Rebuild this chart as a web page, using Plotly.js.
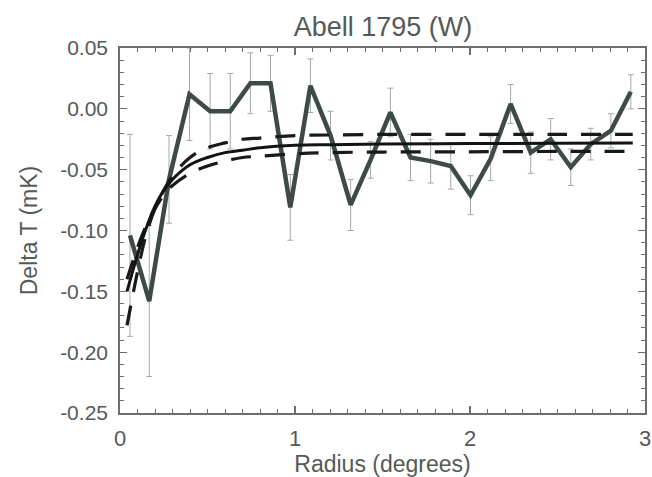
<!DOCTYPE html>
<html>
<head>
<meta charset="utf-8">
<script src="https://cdn.plot.ly/plotly-3.0.1.min.js"></script>
<style>
  html, body { margin: 0; padding: 0; background: #ffffff; }
  #chart { width: 652px; height: 477px; }
</style>
</head>
<body>
<div id="chart"></div>
<script>
// ---- data ----
const radius = [0.057, 0.167, 0.280, 0.397, 0.515, 0.630, 0.745, 0.860, 0.973, 1.088,
                1.203, 1.318, 1.432, 1.545, 1.660, 1.775, 1.890, 2.003, 2.118, 2.232,
                2.347, 2.461, 2.576, 2.690, 2.805, 2.919];
const deltaT = [-0.104, -0.158, -0.058, 0.012, -0.002, -0.002, 0.021, 0.021, -0.081, 0.019,
                -0.022, -0.079, -0.042, -0.003, -0.040, -0.043, -0.047, -0.071, -0.041, 0.004,
                -0.036, -0.025, -0.048, -0.029, -0.018, 0.014];
const deltaErr = [0.083, 0.062, 0.036, 0.038, 0.031, 0.031, 0.025, 0.023, 0.027, 0.022,
                  0.020, 0.021, 0.015, 0.020, 0.019, 0.018, 0.019, 0.016, 0.018, 0.016,
                  0.017, 0.017, 0.015, 0.013, 0.014, 0.014];

const fitR     = [0.04, 0.10, 0.15, 0.20, 0.25, 0.30, 0.40, 0.50, 0.60, 0.70, 0.80, 1.00, 1.20, 1.50, 2.00, 2.50, 2.93];
const fitBest  = [-0.150, -0.120, -0.098, -0.080, -0.067, -0.058, -0.046, -0.040, -0.036, -0.034, -0.032, -0.030, -0.0295, -0.029, -0.0285, -0.0283, -0.028];
const fitUpper = [-0.178, -0.134, -0.103, -0.082, -0.067, -0.055, -0.040, -0.032, -0.028, -0.025, -0.024, -0.022, -0.0215, -0.021, -0.021, -0.021, -0.021];
const fitLower = [-0.140, -0.114, -0.096, -0.082, -0.071, -0.063, -0.053, -0.047, -0.043, -0.040, -0.039, -0.037, -0.036, -0.0355, -0.0353, -0.035, -0.035];

const xTickVals = [0, 1, 2, 3];
const xTickText = ["0", "1", "2", "3"];
const yTickVals = [0.05, 0.00, -0.05, -0.10, -0.15, -0.20, -0.25];
const yTickText = ["0.05", "0.00", "-0.05", "-0.10", "-0.15", "-0.20", "-0.25"];

// ---- styling ----
const textColor = '#555a57';
const axisColor = '#6a6f6c';
const fontFam = 'Liberation Sans, Arial, Helvetica, sans-serif';

const traces = [
  {
    x: radius, y: deltaT, type: 'scatter', mode: 'lines',
    line: { color: '#3e4b44', width: 4.5 },
    error_y: { type: 'data', array: deltaErr, visible: true, color: '#a3aaa6', thickness: 1, width: 3 },
    hoverinfo: 'skip'
  },
  {
    x: fitR, y: fitUpper, type: 'scatter', mode: 'lines',
    line: { color: '#161a18', width: 3.2, dash: '20px,14px', shape: 'spline', smoothing: 1 }
  },
  {
    x: fitR, y: fitLower, type: 'scatter', mode: 'lines',
    line: { color: '#161a18', width: 3.2, dash: '20px,14px', shape: 'spline', smoothing: 1 }
  },
  {
    x: fitR, y: fitBest, type: 'scatter', mode: 'lines',
    line: { color: '#111413', width: 3, shape: 'spline', smoothing: 1 }
  }
];

const layout = {
  width: 652, height: 477,
  margin: { l: 120, r: 7, t: 48, b: 64, pad: 0 },
  paper_bgcolor: '#ffffff', plot_bgcolor: '#ffffff',
  showlegend: false,
  font: { family: fontFam, color: textColor, size: 20 },
  title: {
    text: 'Abell 1795 (W)',
    font: { family: fontFam, color: textColor, size: 27 },
    x: 383 / 652, xanchor: 'center', xref: 'container',
    y: 1 - 27 / 477, yanchor: 'middle', yref: 'container'
  },
  xaxis: {
    range: [0, 3], autorange: false,
    tickmode: 'array', tickvals: xTickVals, ticktext: xTickText,
    ticks: 'inside', ticklen: 7, tickwidth: 1.2, tickcolor: axisColor,
    minor: { tickmode: 'linear', tick0: 0, dtick: 0.1, ticks: 'inside', ticklen: 4, tickwidth: 1, tickcolor: axisColor },
    showline: true, linecolor: axisColor, linewidth: 1.8, mirror: 'allticks',
    showgrid: false, zeroline: false,
    tickfont: { family: fontFam, color: textColor, size: 22 },
    ticklabelstandoff: 5,
    title: { text: 'Radius (degrees)', font: { family: fontFam, color: textColor, size: 23 }, standoff: 2 }
  },
  yaxis: {
    range: [-0.25, 0.05], autorange: false,
    tickmode: 'array', tickvals: yTickVals, ticktext: yTickText,
    ticks: 'inside', ticklen: 7, tickwidth: 1.2, tickcolor: axisColor,
    minor: { tickmode: 'linear', tick0: 0, dtick: 0.01, ticks: 'inside', ticklen: 4, tickwidth: 1, tickcolor: axisColor },
    showline: true, linecolor: axisColor, linewidth: 1.8, mirror: 'allticks',
    showgrid: false, zeroline: false,
    tickfont: { family: fontFam, color: textColor, size: 21 },
    ticklabelstandoff: 6,
    title: { text: 'Delta T (mK)', font: { family: fontFam, color: textColor, size: 23 }, standoff: 16 }
  }
};

Plotly.newPlot('chart', traces, layout, { displayModeBar: false, staticPlot: true });
</script>
</body>
</html>
